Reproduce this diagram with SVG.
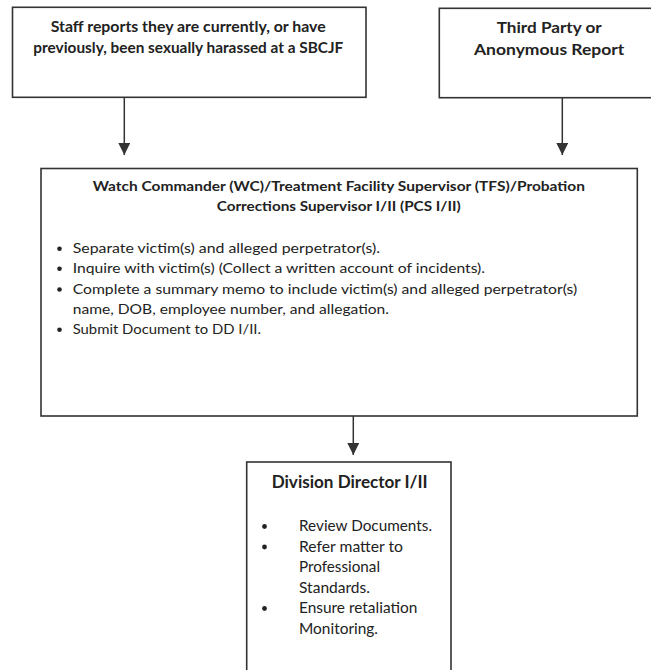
<svg xmlns="http://www.w3.org/2000/svg" width="651" height="670" viewBox="0 0 651 670">
<defs>
<style>
.box{fill:#fff;stroke:#333;stroke-width:1.6}
.b{font-family:Lato,"Open Sans","Liberation Sans",sans-serif;font-weight:bold;fill:#222}
.r{font-family:Lato,"Open Sans","Liberation Sans",sans-serif;fill:#222}
.c{text-anchor:middle}
.edge{stroke:#333;stroke-width:1.5;fill:none}
.dot{fill:#222}
</style>
<marker id="ah" markerUnits="userSpaceOnUse" markerWidth="12" markerHeight="12" viewBox="0 0 12 12" refX="12" refY="6" orient="auto">
<path d="M0,0 L12,6 L0,12 Z" fill="#333"/>
</marker>
</defs>
<rect width="651" height="670" fill="#fff"/>

<g id="connectors">
<line class="edge" x1="124.3" y1="97.5" x2="124.3" y2="155" marker-end="url(#ah)"/>
<line class="edge" x1="562.3" y1="98" x2="562.3" y2="155" marker-end="url(#ah)"/>
<line class="edge" x1="353.3" y1="416" x2="353.3" y2="455" marker-end="url(#ah)"/>
</g>

<g id="node-staff">
<rect class="box" x="12.5" y="7.3" width="353.5" height="90"/>
<text class="b" font-size="14.5" x="50.7" y="31.7" textLength="275" lengthAdjust="spacingAndGlyphs">Staff reports they are currently, or have</text>
<text class="b" font-size="14.5" x="33.3" y="53.3" textLength="310" lengthAdjust="spacingAndGlyphs">previously, been sexually harassed at a SBCJF</text>
</g>

<g id="node-third">
<rect class="box" x="439.3" y="8.3" width="222" height="89.4"/>
<text class="b" font-size="16" x="496.7" y="33" textLength="105" lengthAdjust="spacingAndGlyphs">Third Party or</text>
<text class="b" font-size="16" x="474" y="55" textLength="150.3" lengthAdjust="spacingAndGlyphs">Anonymous Report</text>
</g>

<g id="node-wc">
<rect class="box" x="41" y="168.5" width="596.3" height="247.5"/>
<text class="b" font-size="14" x="92.7" y="190.7" textLength="492.3" lengthAdjust="spacingAndGlyphs">Watch Commander (WC)/Treatment Facility Supervisor (TFS)/Probation</text>
<text class="b" font-size="14" x="216.7" y="210.7" textLength="244" lengthAdjust="spacingAndGlyphs">Corrections Supervisor I/II (PCS I/II)</text>
<circle class="dot" cx="59.5" cy="248.8" r="2.3"/>
<circle class="dot" cx="59.5" cy="268.8" r="2.3"/>
<circle class="dot" cx="59.5" cy="289.5" r="2.3"/>
<circle class="dot" cx="59.5" cy="329.8" r="2.3"/>
<text class="r" font-size="14" x="72.7" y="253.3" textLength="307.3" lengthAdjust="spacingAndGlyphs">Separate victim(s) and alleged perpetrator(s).</text>
<text class="r" font-size="14" x="72.7" y="273.3" textLength="412.3" lengthAdjust="spacingAndGlyphs">Inquire with victim(s) (Collect a written account of incidents).</text>
<text class="r" font-size="14" x="72.7" y="294" textLength="504.6" lengthAdjust="spacingAndGlyphs">Complete a summary memo to include victim(s) and alleged perpetrator(s)</text>
<text class="r" font-size="14" x="72.7" y="314" textLength="316.3" lengthAdjust="spacingAndGlyphs">name, DOB, employee number, and allegation.</text>
<text class="r" font-size="14" x="72.7" y="334.3" textLength="188.3" lengthAdjust="spacingAndGlyphs">Submit Document to DD I/II.</text>
</g>

<g id="node-dd">
<rect class="box" x="246.7" y="462" width="204.3" height="220"/>
<text class="b" font-size="16.5" x="271.7" y="488.3" textLength="156" lengthAdjust="spacingAndGlyphs">Division Director I/II</text>
<circle class="dot" cx="264.5" cy="526.5" r="2.4"/>
<circle class="dot" cx="264.5" cy="547" r="2.4"/>
<circle class="dot" cx="264.5" cy="608.5" r="2.4"/>
<text class="r" font-size="15" x="299" y="531" textLength="133" lengthAdjust="spacingAndGlyphs">Review Documents.</text>
<text class="r" font-size="15" x="299" y="551.5" textLength="104" lengthAdjust="spacingAndGlyphs">Refer matter to</text>
<text class="r" font-size="15" x="299" y="572" textLength="81" lengthAdjust="spacingAndGlyphs">Professional</text>
<text class="r" font-size="15" x="299" y="592.5" textLength="71" lengthAdjust="spacingAndGlyphs">Standards.</text>
<text class="r" font-size="15" x="299" y="613" textLength="118.3" lengthAdjust="spacingAndGlyphs">Ensure retaliation</text>
<text class="r" font-size="15" x="299" y="633.5" textLength="79" lengthAdjust="spacingAndGlyphs">Monitoring.</text>
</g>
</svg>
